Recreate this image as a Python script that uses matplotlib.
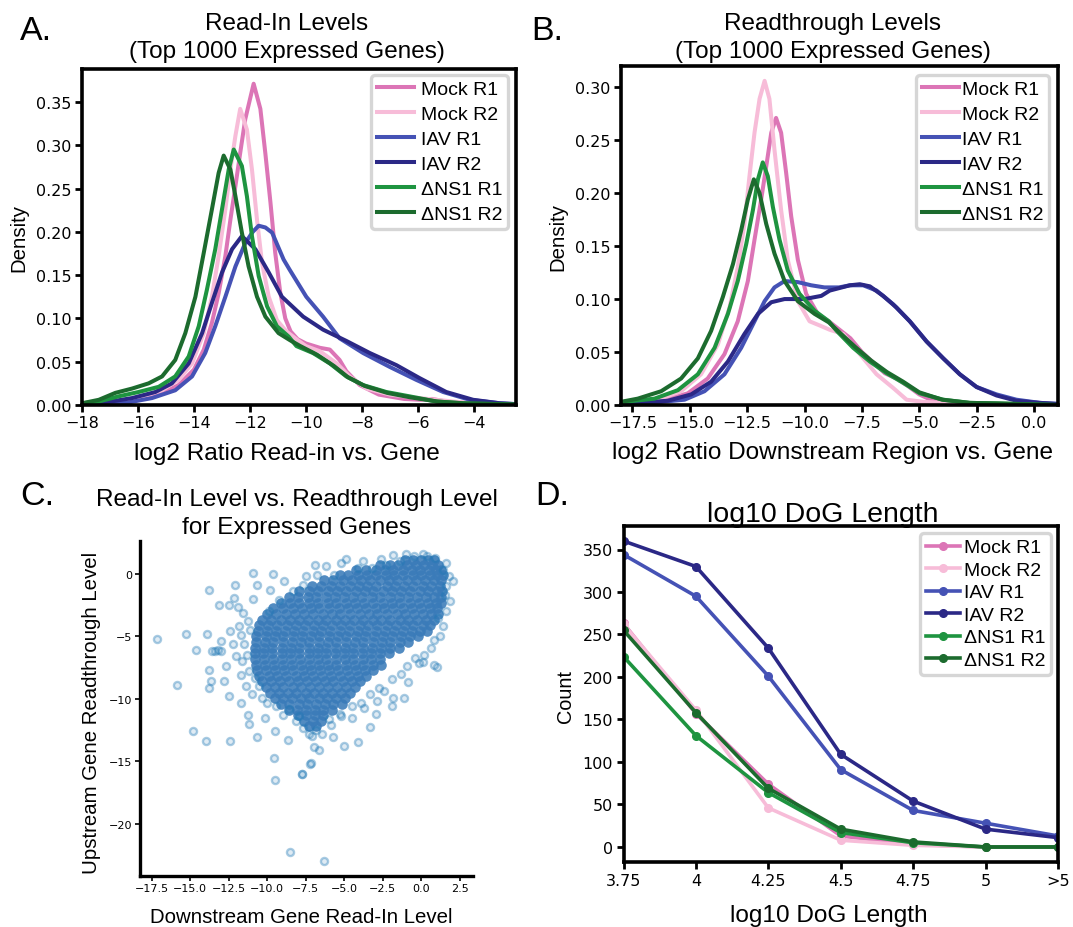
"""Read-in / readthrough overview: density curves, scatter and DoG length counts."""

import matplotlib
matplotlib.use("Agg")
import matplotlib.pyplot as plt
from matplotlib.ticker import MultipleLocator

W_PX, H_PX = 1073, 928
DPI = 100
TEXT_FONT = "Liberation Sans"
TICK_FONT = "DejaVu Sans"

SAMPLES = ["Mock R1", "Mock R2", "IAV R1", "IAV R2", "ΔNS1 R1", "ΔNS1 R2"]
COLOURS = ["#dc75b6", "#f7bcd8", "#4552b5", "#2b2886", "#1e9440", "#1c6b2e"]

# A. read-in level density (log2 read-in / gene), one curve per sample
READIN_X = [
    [-18.0, -17.05, -16.0, -15.14, -14.55, -14.0, -13.65, -13.36, -13.12, -12.88, -12.7, -12.52,
     -12.35, -12.17, -11.87, -11.63, -11.45, -11.27, -11.1, -10.92, -10.74, -10.55, -10.3, -10.0,
     -9.5, -9.15, -8.8, -8.56, -8.08, -7.4, -6.5, -5.9, -5.5, -5.0, -4.2, -3.5, -2.5],
    [-18.0, -16.9, -15.98, -15.14, -14.55, -14.07, -13.65, -13.36, -13.12, -12.88, -12.7, -12.52,
     -12.35, -12.11, -11.93, -11.75, -11.57, -11.33, -11.04, -10.7, -10.3, -10.0, -9.5, -8.9,
     -8.44, -7.84, -7.0, -5.94, -4.75, -3.5, -2.5],
    [-18.0, -17.5, -16.33, -15.5, -14.67, -14.07, -13.6, -13.24, -12.88, -12.52, -12.17, -11.9,
     -11.69, -11.45, -11.21, -10.8, -10.58, -9.99, -9.39, -8.8, -7.96, -7.01, -6.06, -5.1, -4.15,
     -3.08, -2.5],
    [-18.0, -17.17, -16.21, -15.38, -14.79, -14.19, -13.71, -13.36, -13.0, -12.64, -12.29, -11.81,
     -11.33, -10.86, -10.1, -9.39, -8.56, -7.72, -6.77, -5.94, -4.99, -4.03, -3.08, -2.5],
    [-18.0, -17.4, -16.69, -15.98, -15.26, -14.67, -14.19, -13.83, -13.54, -13.24, -13.0, -12.76,
     -12.58, -12.29, -12.11, -11.93, -11.69, -11.39, -11.04, -10.62, -10.34, -9.75, -9.15, -8.56,
     -7.96, -7.13, -6.3, -5.34, -4.39, -2.5],
    [-18.0, -17.4, -16.81, -16.21, -15.62, -15.14, -14.67, -14.31, -13.95, -13.65, -13.36, -13.12,
     -12.94, -12.7, -12.52, -12.29, -12.05, -11.75, -11.45, -10.98, -10.58, -10.2, -9.6, -9.0,
     -8.5, -7.9, -7.1, -6.3, -5.3, -4.4, -2.5],
]
READIN_Y = [
    [0.001, 0.002, 0.006, 0.014, 0.023, 0.041, 0.064, 0.095, 0.129, 0.172, 0.214, 0.253, 0.291,
     0.33, 0.371, 0.342, 0.29, 0.234, 0.176, 0.13, 0.1, 0.085, 0.076, 0.071, 0.066, 0.064, 0.052,
     0.039, 0.023, 0.012, 0.007, 0.006, 0.007, 0.004, 0.002, 0.001, 0.0005],
    [0.001, 0.003, 0.008, 0.017, 0.029, 0.048, 0.083, 0.125, 0.172, 0.226, 0.272, 0.311, 0.342,
     0.318, 0.272, 0.214, 0.164, 0.125, 0.098, 0.085, 0.075, 0.068, 0.062, 0.048, 0.033, 0.019,
     0.012, 0.008, 0.004, 0.001, 0.0005],
    [0.0005, 0.001, 0.003, 0.008, 0.017, 0.033, 0.06, 0.091, 0.125, 0.16, 0.187, 0.2, 0.207,
     0.205, 0.199, 0.168, 0.156, 0.125, 0.102, 0.077, 0.06, 0.044, 0.029, 0.015, 0.006, 0.002,
     0.001],
    [0.001, 0.003, 0.008, 0.015, 0.025, 0.048, 0.083, 0.118, 0.153, 0.18, 0.195, 0.18, 0.153,
     0.125, 0.102, 0.087, 0.074, 0.06, 0.046, 0.031, 0.015, 0.006, 0.002, 0.001],
    [0.002, 0.004, 0.01, 0.015, 0.021, 0.033, 0.056, 0.091, 0.133, 0.18, 0.226, 0.272, 0.295,
     0.276, 0.241, 0.195, 0.149, 0.114, 0.091, 0.079, 0.068, 0.06, 0.048, 0.033, 0.023, 0.015,
     0.01, 0.004, 0.002, 0.0005],
    [0.002, 0.006, 0.014, 0.019, 0.025, 0.033, 0.052, 0.083, 0.125, 0.176, 0.226, 0.268, 0.288,
     0.272, 0.241, 0.199, 0.16, 0.125, 0.102, 0.083, 0.075, 0.068, 0.058, 0.045, 0.032, 0.022,
     0.014, 0.009, 0.004, 0.002, 0.0005],
]

# B. readthrough level density (log2 downstream region / gene)
READTHROUGH_X = [
    [-18.0, -17.7, -16.25, -15.09, -14.22, -13.49, -12.91, -12.47, -12.18, -11.89, -11.67, -11.45,
     -11.24, -11.02, -10.8, -10.58, -10.29, -9.93, -9.42, -8.94, -8.0, -7.5, -7.0, -6.5, -6.0,
     -5.5, -5.0, -4.5, -4.0, -3.0, -1.5, 1.05],
    [-18.0, -17.85, -16.4, -15.38, -14.51, -13.78, -13.27, -12.91, -12.62, -12.4, -12.18, -11.96,
     -11.74, -11.53, -11.31, -11.02, -10.73, -10.29, -9.78, -9.33, -8.9, -8.31, -7.59, -6.86,
     -6.13, -5.55, -4.83, -3.95, -2.5, 1.05],
    [-18.0, -16.69, -15.23, -14.36, -13.49, -12.76, -12.18, -11.74, -11.31, -10.87, -10.29, -9.71,
     -9.13, -8.5, -8.02, -7.44, -6.86, -6.13, -5.41, -4.68, -3.95, -3.23, -2.5, -1.63, -0.76,
     0.26, 1.05],
    [-18.0, -17.27, -15.96, -14.94, -14.07, -13.34, -12.62, -12.03, -11.45, -10.87, -10.0, -9.27,
     -8.9, -8.02, -7.59, -7.15, -6.57, -5.99, -5.41, -4.68, -3.95, -3.23, -2.5, -1.63, -0.76,
     0.26, 1.05],
    [-18.0, -17.85, -16.54, -15.52, -14.65, -13.92, -13.34, -12.91, -12.54, -12.25, -12.03,
     -11.82, -11.6, -11.38, -11.09, -10.73, -10.22, -9.56, -8.94, -8.6, -7.88, -7.15, -6.42,
     -5.7, -4.97, -3.95, -2.79, -1.63, 1.05],
    [-18.0, -17.27, -16.25, -15.38, -14.65, -14.07, -13.56, -13.12, -12.76, -12.47, -12.21,
     -11.96, -11.67, -11.31, -10.87, -10.29, -9.56, -8.94, -8.5, -7.8, -7.1, -6.4, -5.7, -5.0,
     -4.0, -2.8, -1.6, 1.05],
]
READTHROUGH_Y = [
    [0.001, 0.002, 0.004, 0.011, 0.025, 0.048, 0.079, 0.117, 0.156, 0.194, 0.225, 0.257, 0.271,
     0.257, 0.219, 0.178, 0.137, 0.105, 0.086, 0.079, 0.063, 0.05, 0.04, 0.03, 0.025, 0.018,
     0.01, 0.005, 0.003, 0.001, 0.0005, 0.0],
    [0.001, 0.002, 0.005, 0.013, 0.029, 0.057, 0.092, 0.13, 0.171, 0.216, 0.257, 0.289, 0.306,
     0.289, 0.241, 0.184, 0.137, 0.098, 0.079, 0.075, 0.071, 0.067, 0.048, 0.029, 0.016, 0.005,
     0.003, 0.002, 0.001, 0.0],
    [0.001, 0.002, 0.005, 0.013, 0.029, 0.054, 0.079, 0.098, 0.111, 0.117, 0.116, 0.113, 0.111,
     0.111, 0.113, 0.113, 0.108, 0.095, 0.079, 0.06, 0.044, 0.029, 0.017, 0.01, 0.005, 0.002,
     0.001],
    [0.001, 0.002, 0.004, 0.01, 0.022, 0.041, 0.067, 0.086, 0.097, 0.1, 0.1, 0.103, 0.108, 0.113,
     0.114, 0.112, 0.103, 0.092, 0.079, 0.06, 0.044, 0.029, 0.017, 0.009, 0.004, 0.002, 0.001],
    [0.002, 0.003, 0.006, 0.014, 0.029, 0.054, 0.086, 0.117, 0.152, 0.184, 0.213, 0.229, 0.216,
     0.187, 0.156, 0.127, 0.105, 0.089, 0.079, 0.07, 0.054, 0.041, 0.03, 0.021, 0.011, 0.005,
     0.002, 0.0015, 0.0],
    [0.003, 0.006, 0.013, 0.025, 0.044, 0.07, 0.102, 0.133, 0.165, 0.194, 0.213, 0.2, 0.171,
     0.143, 0.117, 0.098, 0.086, 0.078, 0.069, 0.055, 0.042, 0.031, 0.022, 0.012, 0.005, 0.002,
     0.0015, 0.0],
]

# C. per-gene read-in (x) vs readthrough (y); sparse genes listed one by one
SPARSE_X = [
    -17.16, -15.26, -13.92, -14.59, -15.86, -14.81, -13.96, -12.39, -13.74, -13.13, -12.46,
    -12.06, -10.94, -10.67, -11.19, -10.67, -9.51, -8.66, -9.55, -9.49, -7.76, -7.14, -6.98,
    -6.42, -5.75, -5.01, -4.07, -3.29, -2.95, -1.88, -1.12, -0.87, -8.5, -6.31, 2.08, -6.87,
    -4.85, 0.85, 0.81, -0.16, 0.18, -13.58, -13.4, -13.2, -13.0, -13.65, -13.74, -12.8, -13.8,
    -12.46, -11.68, -11.23, -12.13, -11.9, -11.57, -11.23, -12.39, -11.68, -13.02, -12.68,
    -11.68, -10.34, -10.11, -8.99, -8.1, -7.65, -7.09, -6.64, -5.86, -5.19, -4.52, -3.74, -2.89,
    -1.83, -2.73, 0.63, 1.07, 1.52, 1.41, 0.4, -0.49, -1.39, -2.28, -3.18, -4.07, -5.64, -6.76,
    -7.65, -8.32, -9.22, -9.89, -11.5, -11.3, -11.6, -12.0, -11.2, -11.4, -11.0, -12.2, -11.8,
    -11.1, -10.9, -9.8, -8.9, -9.6, -7.5, -6.2, -5.2, -3.8, -2.6, -1.8, -1.0, 0.1, 0.9, 1.6,
    1.8, 1.6, 1.9, 1.6, 1.4, 1.2, -0.4, 0.1, 1.0, -0.9, -1.3, -1.9, -2.4, -3.3, -3.9, -4.5,
    -5.3, -6.0, -6.8, -7.3, -7.9, -8.6, -9.4, -10.0, -10.5, -10.8, -7.75, -7.22,
]
SPARSE_Y = [
    -5.2, -4.77, -4.77, -6.05, -8.91, -12.53, -13.33, -13.33, -1.25, -2.51, -2.51, -0.85, 0.08,
    -0.91, -12.0, -13.07, -12.59, -13.25, -14.72, -16.51, -15.97, -15.12, -13.87, -12.77,
    -13.07, -13.79, -13.44, -12.24, -11.2, -10.59, -9.92, -8.67, -22.27, -22.99, -0.53, 0.75,
    1.23, -5.31, -7.25, -7.12, -6.45, -6.13, -6.13, -6.1, -6.2, -8.59, -9.12, -8.53, -7.65,
    -9.79, -10.32, -11.25, -1.92, -2.67, -3.12, -3.79, -4.59, -4.85, -5.39, -7.39, -8.05, -9.92,
    -11.52, -11.25, -11.79, -12.32, -12.99, -14.05, -12.05, -11.39, -11.52, -10.72, -10.19,
    -9.92, -9.12, -5.92, -3.52, -1.65, 0.35, 1.41, 1.41, 1.01, 0.75, 0.48, 0.48, -0.05, -0.05,
    -0.85, -1.39, -2.05, -2.99, -5.6, -6.5, -7.0, -6.6, -7.8, -9.0, -9.6, -5.6, -4.2, -4.5,
    -2.0, -1.3, -0.6, 0.0, -0.2, 0.6, 0.9, 1.0, 1.2, 1.5, 1.6, 1.6, 1.3, 0.9, -0.2, -1.0, -2.2,
    -3.0, -4.2, -5.0, -6.7, -7.05, -7.45, -7.4, -8.0, -8.4, -9.4, -9.6, -10.3, -10.6, -11.2,
    -11.6, -12.5, -12.8, -11.4, -10.8, -10.6, -10.3, -9.0, -8.3, -16.0, -15.2,
]

# dense part of the cloud, listed row by row: (readthrough level, read-in levels)
DENSE_ROWS = [
    (1.15, [-1.05, -0.5, 0.0, 0.45, 0.85]),
    (0.75, [-2.7, -2.05, -1.5, -0.95, -0.35, 0.2, 0.7, 1.1]),
    (0.35, [-4.2, -3.55, -2.9, -2.35, -1.8, -1.2, -0.6, -0.05, 0.5, 0.95, 1.3]),
    (-0.1, [-5.3, -4.75, -4.1, -3.5, -2.95, -2.3, -1.75, -1.15, -0.55, 0.0, 0.6, 1.05, 1.4]),
    (-0.5, [-6.3, -5.7, -5.05, -4.5, -3.9, -3.3, -2.7, -2.1, -1.55, -0.95, -0.35, 0.25, 0.8,
            1.3]),
    (-0.95, [-7.1, -6.5, -5.85, -5.3, -4.65, -4.05, -3.5, -2.9, -2.25, -1.7, -1.1, -0.5, 0.1,
             0.65, 1.2]),
    (-1.4, [-7.9, -7.3, -6.7, -6.05, -5.45, -4.9, -4.25, -3.65, -3.1, -2.45, -1.9, -1.3, -0.7,
            -0.1, 0.45, 1.0, 1.35]),
    (-1.85, [-8.6, -8.0, -7.35, -6.8, -6.15, -5.6, -5.0, -4.4, -3.85, -3.2, -2.65, -2.05, -1.45,
             -0.85, -0.3, 0.3, 0.85, 1.3]),
    (-2.3, [-9.1, -8.5, -7.9, -7.3, -6.7, -6.05, -5.5, -4.9, -4.3, -3.7, -3.1, -2.5, -1.9, -1.35,
            -0.7, -0.15, 0.45, 0.95, 1.3]),
    (-2.75, [-9.6, -9.0, -8.35, -7.75, -7.15, -6.6, -5.95, -5.35, -4.75, -4.15, -3.6, -2.95,
             -2.4, -1.8, -1.15, -0.6, 0.0, 0.55, 1.05]),
    (-3.2, [-10.0, -9.4, -8.8, -8.2, -7.6, -7.0, -6.4, -5.8, -5.25, -4.6, -4.0, -3.4, -2.85,
            -2.25, -1.6, -1.05, -0.45, 0.1, 0.65, 1.1]),
    (-3.65, [-10.3, -9.75, -9.1, -8.5, -7.95, -7.35, -6.7, -6.15, -5.55, -4.95, -4.35, -3.8,
             -3.15, -2.6, -2.0, -1.4, -0.85, -0.25, 0.3, 0.85]),
    (-4.1, [-10.5, -9.95, -9.35, -8.7, -8.15, -7.55, -6.95, -6.35, -5.8, -5.2, -4.6, -4.0,
            -3.45, -2.85, -2.25, -1.65, -1.05, -0.5, 0.1, 0.6]),
    (-4.55, [-10.6, -10.0, -9.4, -8.85, -8.25, -7.65, -7.05, -6.5, -5.9, -5.3, -4.7, -4.1,
             -3.55, -2.95, -2.35, -1.75, -1.2, -0.6, -0.05, 0.4]),
    (-5.0, [-10.7, -10.1, -9.5, -8.95, -8.35, -7.75, -7.15, -6.6, -6.0, -5.4, -4.85, -4.25,
            -3.65, -3.05, -2.5, -1.9, -1.3, -0.75, -0.2]),
    (-5.45, [-10.75, -10.15, -9.6, -9.0, -8.4, -7.8, -7.25, -6.65, -6.05, -5.5, -4.9, -4.3,
             -3.75, -3.15, -2.55, -2.0, -1.4, -0.85]),
    (-5.9, [-10.8, -10.2, -9.65, -9.05, -8.45, -7.9, -7.3, -6.7, -6.15, -5.55, -4.95, -4.4,
            -3.8, -3.2, -2.6, -2.05, -1.45]),
    (-6.35, [-10.8, -10.25, -9.65, -9.05, -8.5, -7.9, -7.3, -6.75, -6.15, -5.6, -5.0, -4.4,
             -3.85, -3.25, -2.7, -2.1]),
    (-6.8, [-10.8, -10.2, -9.6, -9.05, -8.45, -7.85, -7.3, -6.7, -6.15, -5.55, -4.95, -4.4,
            -3.8, -3.25, -2.65]),
    (-7.25, [-10.75, -10.15, -9.55, -9.0, -8.4, -7.8, -7.2, -6.65, -6.05, -5.5, -4.9, -4.3,
             -3.75, -3.15, -2.6]),
    (-7.7, [-10.65, -10.05, -9.5, -8.9, -8.3, -7.7, -7.15, -6.55, -6.0, -5.4, -4.8, -4.25,
            -3.65, -3.1]),
    (-8.15, [-10.5, -9.9, -9.35, -8.75, -8.15, -7.6, -7.0, -6.45, -5.85, -5.3, -4.7, -4.1,
             -3.55]),
    (-8.6, [-10.3, -9.75, -9.15, -8.6, -8.0, -7.4, -6.85, -6.25, -5.7, -5.1, -4.5, -3.95]),
    (-9.05, [-10.1, -9.5, -8.95, -8.35, -7.8, -7.2, -6.65, -6.05, -5.45, -4.9, -4.3]),
    (-9.5, [-9.8, -9.25, -8.65, -8.1, -7.5, -6.95, -6.35, -5.8, -5.2, -4.6]),
    (-9.95, [-9.5, -8.95, -8.4, -7.8, -7.25, -6.65, -6.1, -5.5, -4.95]),
    (-10.4, [-9.1, -8.55, -7.95, -7.4, -6.85, -6.25, -5.7, -5.15]),
    (-10.85, [-8.6, -8.05, -7.5, -6.9, -6.35, -5.8]),
    (-11.3, [-8.0, -7.45, -6.9, -6.35]),
    (-11.75, [-7.6, -7.05, -6.5]),
    (-12.2, [-7.3, -6.8]),
]

# D. number of DoGs per log10 length bin
DOG_BINS = ["3.75", "4", "4.25", "4.5", "4.75", "5", ">5"]
DOG_COUNTS = [
    [263, 157, 74, 13, 3, 0, 0],
    [262, 161, 46, 8, 2, 0, 0],
    [344, 295, 201, 91, 43, 28, 13],
    [360, 330, 234, 109, 54, 21, 11],
    [224, 131, 64, 17, 5, 0, 0],
    [255, 158, 69, 21, 6, 0, 0],
]


def px_box(left, top, right, bottom):
    """Axes rectangle from pixel edges (origin top-left)."""
    return [left / W_PX, 1 - bottom / H_PX, (right - left) / W_PX, (bottom - top) / H_PX]


def px_text(fig, x, y, s, **kw):
    """Figure text placed in pixel coordinates (origin top-left)."""
    kw.setdefault("family", TEXT_FONT)
    return fig.text(x / W_PX, 1 - y / H_PX, s, **kw)


def style_box_axes(ax, tick_size=11.5):
    for spine in ax.spines.values():
        spine.set_linewidth(2.6)
    ax.tick_params(direction="out", length=5, width=2, labelsize=tick_size, pad=2.5)


def add_legend(ax, fig, right, top, handletextpad, labelspacing, handlelength=1.9):
    leg = ax.legend(
        loc="upper right",
        bbox_to_anchor=(right / W_PX, 1 - top / H_PX),
        bbox_transform=fig.transFigure,
        prop={"family": TEXT_FONT, "size": 14},
        handlelength=handlelength,
        handletextpad=handletextpad,
        labelspacing=labelspacing,
        borderpad=0.3,
        borderaxespad=0,
        framealpha=1,
    )
    frame = leg.get_frame()
    frame.set_edgecolor("#d6d6d6")
    frame.set_linewidth(2.4)
    return leg


def density_panel(ax, xs, ys, xlim, ylim, step):
    for x, y, label, colour in zip(xs, ys, SAMPLES, COLOURS):
        ax.plot(x, y, color=colour, lw=2.9, label=label, solid_joinstyle="round")
    ax.set_xlim(*xlim)
    ax.set_ylim(*ylim)
    ax.xaxis.set_major_locator(MultipleLocator(step))
    ax.yaxis.set_major_locator(MultipleLocator(0.05))
    ax.yaxis.set_major_formatter("{x:.2f}")
    style_box_axes(ax)


def scatter_panel(ax):
    blue = (0.12, 0.47, 0.71)
    dense_x = [x for _, row in DENSE_ROWS for x in row]
    dense_y = [y for y, row in DENSE_ROWS for _ in row]
    # dense genes overlap heavily, so draw them as plain discs
    ax.scatter(dense_x, dense_y, s=58, color="#3a7bb9", alpha=0.88, linewidths=0)
    ax.scatter(SPARSE_X, SPARSE_Y, s=26, facecolors=blue + (0.14,),
               edgecolors=blue + (0.38,), linewidths=1.7)
    ax.set_xlim(-18.28, 3.33)
    ax.set_ylim(-24.14, 2.66)
    ax.xaxis.set_major_locator(MultipleLocator(2.5))
    ax.yaxis.set_major_locator(MultipleLocator(5))
    for side in ("top", "right"):
        ax.spines[side].set_visible(False)
    for side in ("left", "bottom"):
        ax.spines[side].set_linewidth(2.4)
    ax.tick_params(direction="out", length=3.5, width=1.2, labelsize=8, pad=2)


def dog_panel(ax):
    pos = list(range(len(DOG_BINS)))
    for counts, label, colour in zip(DOG_COUNTS, SAMPLES, COLOURS):
        ax.plot(pos, counts, color=colour, lw=2.6, marker="o", ms=5.5, label=label)
    ax.set_xlim(0, len(DOG_BINS) - 1)
    ax.set_ylim(-18, 378)
    ax.set_xticks(pos)
    ax.set_xticklabels(DOG_BINS)
    ax.yaxis.set_major_locator(MultipleLocator(50))
    style_box_axes(ax, tick_size=11.5)


def main():
    plt.rcParams.update({"font.family": TICK_FONT, "axes.unicode_minus": True})
    fig = plt.figure(figsize=(W_PX / DPI, H_PX / DPI), dpi=DPI)

    # A. read-in levels
    ax_a = fig.add_axes(px_box(82, 70, 516, 406))
    density_panel(ax_a, READIN_X, READIN_Y, (-18, -2.5), (0, 0.388), 2)
    add_legend(ax_a, fig, 508, 75.7, handletextpad=0.35, labelspacing=0.38)
    px_text(fig, 20, 40, "A.", size=24.5)
    px_text(fig, 287, 30, "Read-In Levels", size=17.5, ha="center", va="baseline")
    px_text(fig, 287, 58, "(Top 1000 Expressed Genes)", size=17.5, ha="center", va="baseline")
    px_text(fig, 287, 460, "log2 Ratio Read-in vs. Gene", size=17.6, ha="center", va="baseline")
    px_text(fig, 19, 237.5, "Density", size=14.7, ha="center", va="center", rotation=90)

    # B. readthrough levels
    ax_b = fig.add_axes(px_box(621, 67, 1058, 406))
    density_panel(ax_b, READTHROUGH_X, READTHROUGH_Y, (-18, 1.05), (0, 0.32), 2.5)
    add_legend(ax_b, fig, 1049, 75.7, handletextpad=0.15, labelspacing=0.38)
    px_text(fig, 531, 40, "B.", size=24.5)
    px_text(fig, 833, 30, "Readthrough Levels", size=17.5, ha="center", va="baseline")
    px_text(fig, 833, 58, "(Top 1000 Expressed Genes)", size=17.5, ha="center", va="baseline")
    px_text(fig, 832, 459, "log2 Ratio Downstream Region vs. Gene", size=17.6,
            ha="center", va="baseline")
    px_text(fig, 557.7, 236.7, "Density", size=14.7, ha="center", va="center", rotation=90)

    # C. read-in vs readthrough scatter
    ax_c = fig.add_axes(px_box(139.5, 541.7, 472.5, 876.7))
    scatter_panel(ax_c)
    px_text(fig, 20.7, 505, "C.", size=24.5)
    px_text(fig, 296.5, 506, "Read-In Level vs. Readthrough Level", size=17.6,
            ha="center", va="baseline")
    px_text(fig, 296.5, 534.3, "for Expressed Genes", size=17.6, ha="center", va="baseline")
    px_text(fig, 301.3, 923, "Downstream Gene Read-In Level", size=14.7,
            ha="center", va="baseline")
    px_text(fig, 92, 712.5, "Upstream Gene Readthrough Level", size=14.7,
            ha="center", va="center", rotation=90)

    # D. DoG length distribution
    ax_d = fig.add_axes(px_box(623.5, 526.7, 1058, 863.3))
    dog_panel(ax_d)
    add_legend(ax_d, fig, 1051, 534, handletextpad=0.2, labelspacing=0.25, handlelength=1.75)
    px_text(fig, 535, 505, "D.", size=24.5)
    px_text(fig, 822.6, 522, "log10 DoG Length", size=20.5, ha="center", va="baseline")
    px_text(fig, 828.6, 922.5, "log10 DoG Length", size=17.6, ha="center", va="baseline")
    px_text(fig, 566, 696.7, "Count", size=14.3, ha="center", va="center", rotation=90)

    fig.savefig("out.png", dpi=DPI)


if __name__ == "__main__":
    main()
